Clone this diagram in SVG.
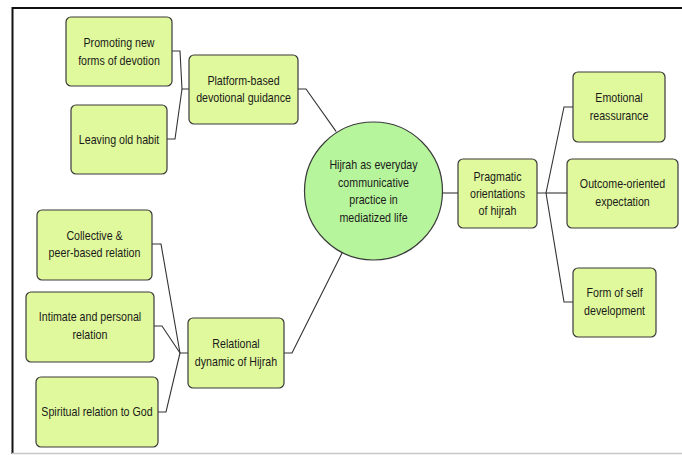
<svg xmlns="http://www.w3.org/2000/svg" width="682" height="455" viewBox="0 0 682 455">
<defs>
<style>
.box{fill:#e0f99c;stroke:#3a3a3a;stroke-width:1.2}
.hub{fill:#b7f59c;stroke:#3a3a3a;stroke-width:1.2}
.lbl{font-family:"Liberation Sans",Arial,sans-serif;font-size:13px;fill:#1a1a1a;text-anchor:middle;transform-box:fill-box;transform-origin:center;transform:scaleX(0.82)}
.conn{fill:none;stroke:#333;stroke-width:1.1}
</style>
</defs>
<rect x="0" y="0" width="682" height="455" fill="#fff"/>
<line x1="12" y1="8" x2="682" y2="8" stroke="#111" stroke-width="2"/>
<line x1="12.5" y1="7" x2="12.5" y2="454" stroke="#111" stroke-width="2"/>
<line x1="12" y1="453.5" x2="682" y2="453.5" stroke="#c8c8c8" stroke-width="1.5"/>

<g id="connectors">
<polyline class="conn" points="172,51 180,51 182,89 189,89"/>
<polyline class="conn" points="167,139 175,139 182,89"/>
<polyline class="conn" points="298,89 306,89 336.2,131.6"/>
<polyline class="conn" points="284,353 292,353 342.2,252.7"/>
<polyline class="conn" points="152,244 161,244 180,353 188,353"/>
<polyline class="conn" points="154,326 162,326 180,353"/>
<polyline class="conn" points="158,412 166,412 180,353"/>
<line class="conn" x1="442.5" y1="193" x2="458" y2="193"/>
<polyline class="conn" points="537,193 546,193 564,107 573,107"/>
<line class="conn" x1="546" y1="193" x2="567" y2="193"/>
<polyline class="conn" points="546,193 564,302 573,302"/>
</g>

<g id="hub">
<circle class="hub" cx="373.5" cy="191" r="69"/>
<text class="lbl" x="373.5" y="169.5">Hijrah as everyday</text>
<text class="lbl" x="373.5" y="187">communicative</text>
<text class="lbl" x="373.5" y="204.5">practice in</text>
<text class="lbl" x="373.5" y="222">mediatized life</text>
</g>

<g id="promoting">
<rect class="box" x="66" y="17" width="106" height="69" rx="5"/>
<text class="lbl" x="119" y="47.5">Promoting new</text>
<text class="lbl" x="119" y="65">forms of devotion</text>
</g>
<g id="leaving">
<rect class="box" x="71" y="105" width="96" height="69" rx="5"/>
<text class="lbl" x="119" y="144">Leaving old habit</text>
</g>
<g id="platform">
<rect class="box" x="189" y="55" width="109" height="69" rx="5"/>
<text class="lbl" x="243.5" y="85.5">Platform-based</text>
<text class="lbl" x="243.5" y="102.5">devotional guidance</text>
</g>

<g id="collective">
<rect class="box" x="37" y="210" width="115" height="70" rx="5"/>
<text class="lbl" x="94.5" y="240.5">Collective &amp;</text>
<text class="lbl" x="94.5" y="257.5">peer-based relation</text>
</g>
<g id="intimate">
<rect class="box" x="26" y="292" width="128" height="70" rx="5"/>
<text class="lbl" x="90" y="321.5">Intimate and personal</text>
<text class="lbl" x="90" y="339">relation</text>
</g>
<g id="spiritual">
<rect class="box" x="36" y="377" width="122" height="70" rx="5"/>
<text class="lbl" x="97" y="416.5">Spiritual relation to God</text>
</g>
<g id="relational">
<rect class="box" x="188" y="318" width="96" height="70" rx="5"/>
<text class="lbl" x="236" y="348.5">Relational</text>
<text class="lbl" x="236" y="366.5">dynamic of Hijrah</text>
</g>

<g id="pragmatic">
<rect class="box" x="458" y="159" width="79" height="69" rx="5"/>
<text class="lbl" x="497.5" y="181.5">Pragmatic</text>
<text class="lbl" x="497.5" y="198">orientations</text>
<text class="lbl" x="497.5" y="215.5">of hijrah</text>
</g>

<g id="emotional">
<rect class="box" x="573" y="72" width="92" height="70" rx="5"/>
<text class="lbl" x="619" y="102.5">Emotional</text>
<text class="lbl" x="619" y="120">reassurance</text>
</g>
<g id="outcome">
<rect class="box" x="567" y="159" width="111" height="69" rx="5"/>
<text class="lbl" x="622.5" y="188">Outcome-oriented</text>
<text class="lbl" x="622.5" y="206">expectation</text>
</g>
<g id="form">
<rect class="box" x="573" y="268" width="83" height="69" rx="5"/>
<text class="lbl" x="614.5" y="297.5">Form of self</text>
<text class="lbl" x="614.5" y="315">development</text>
</g>
</svg>
